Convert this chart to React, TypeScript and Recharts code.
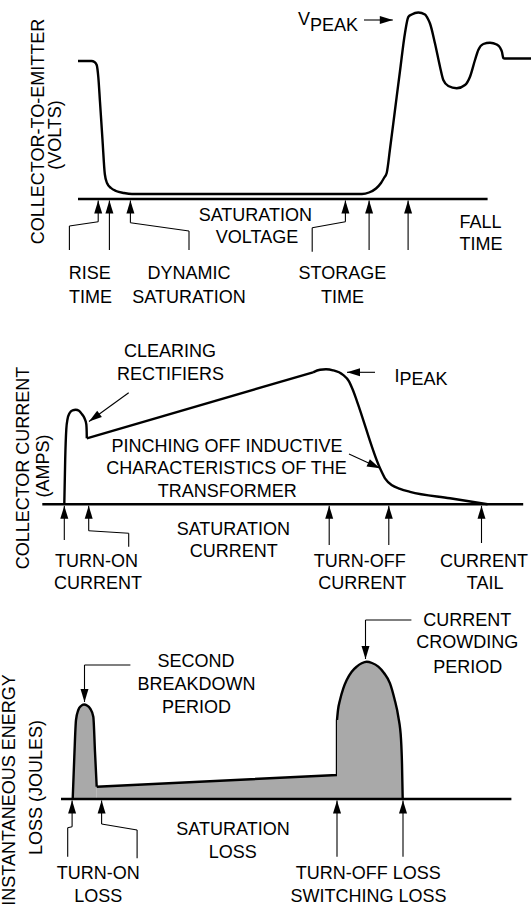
import React from "react";
import {
  ComposedChart,
  Line,
  Area,
  XAxis,
  YAxis,
  ReferenceLine,
  ReferenceDot,
} from "recharts";

type Pt = [number, number];

const FONT = '"Liberation Sans", Arial, Helvetica, sans-serif';
const INK = "#000";
const GREY = "#a9a9a9";
const W = 531;

// ---- panel 1: collector-to-emitter voltage (time, level above the axis)
const vceCurve: Pt[] = [
  [78, 138], [91.5, 138], [94.5, 137], [96.7, 134], [98.3, 122], [100, 97],
  [102.5, 59], [104.8, 25], [107, 16], [111, 11], [116, 8], [124, 6], [132, 5],
  [362, 5], [369, 6.5], [376, 10.5], [381, 16], [384, 21], [386.7, 26],
  [390, 50], [395, 89], [400, 128], [405, 166], [408.3, 182], [411.7, 184.5],
  [418.3, 186.5], [425, 184.5], [428, 180], [430, 175.5], [435, 155.5],
  [440, 132.3], [443.3, 119], [448.3, 113], [456.7, 110.7], [465, 114],
  [470, 122.3], [475, 139], [478.3, 149], [483.3, 155], [490, 156.3],
  [496.7, 154.5], [500, 151.5], [502, 147], [503.3, 141], [504.5, 140.5],
  [531, 140.5],
];

// ---- panel 2: collector current
const icTurnOn: Pt[] = [
  [64.3, 0], [65.2, 45], [66.3, 75], [67.5, 85], [69.5, 91], [72.5, 94],
  [75.7, 94.5], [79, 93.5], [82, 90], [84.5, 86], [86.3, 80], [86.7, 72],
  [86.8, 66],
];
const icRamp: Pt[] = [[86.8, 66], [313, 132]];
const icTurnOff: Pt[] = [
  [313, 132], [320, 134.5], [326, 135], [333, 134], [343, 129.5], [349, 123],
  [353, 114], [357, 103], [380, 36], [385, 26], [392, 19], [400, 15.5],
  [410, 12.5], [450, 6], [487.6, 0],
];

// ---- panel 3: instantaneous energy loss
const lossTurnOn: Pt[] = [
  [72.7, 0], [74.3, 42], [76, 79], [78.3, 89], [81, 93], [84, 94.5],
  [87, 93.5], [90, 90.7], [93.3, 82.3], [95, 47], [96.7, 12.3],
];
const lossSaturation: Pt[] = [[96.7, 12.3], [337, 24], [337, 79]];
const lossTurnOff: Pt[] = [
  [337, 79], [338, 89], [340, 99], [343.3, 110.7], [346.7, 119],
  [351.7, 127.3], [356.7, 132.3], [361.7, 135.7], [366.7, 137.3], [372, 136],
  [378.3, 132.3], [384, 126], [390, 115.7], [394.5, 100], [398.3, 82.3],
  [401, 60], [402, 35], [402.7, 0],
];

// annotation leaders: first point is the arrow tip
const p1Arrows: Pt[][] = [
  [[98.2, -1.5], [98.2, -22.7], [69.4, -27], [69.4, -51]],
  [[109.4, -1.5], [109.4, -51]],
  [[130.4, -1.5], [130.4, -23.7], [189, -32], [189, -51]],
  [[345.4, -1.5], [345.4, -22.7], [312.2, -28.7], [312.2, -52.7]],
  [[369.1, -1.5], [369.1, -51]],
  [[408.1, -1.5], [408.1, -51]],
  [[392.8, 179], [364, 179]],
];
const p1Notes: [number, number, string][] = [
  [255.3, -21.7, "SATURATION"], [257, -44.3, "VOLTAGE"],
  [480.5, -28.7, "FALL"], [481, -51, "TIME"],
  [89.7, -80.3, "RISE"], [90.6, -103.7, "TIME"],
  [189, -80.3, "DYNAMIC"], [189, -103.7, "SATURATION"],
  [342.4, -80.3, "STORAGE"], [342.5, -103.7, "TIME"],
];
const p1Title: [number, number, string][] = [
  [44, 67.5, "COLLECTOR-TO-EMITTER"], [61, 64, "(VOLTS)"],
];

const p2Arrows: Pt[][] = [
  [[64.3, -1.5], [64.3, -35.7]],
  [[88.7, -1.5], [88.7, -26.4], [128.7, -29], [128.7, -42.4]],
  [[329.2, -1.5], [329.2, -40.7]],
  [[388.8, -1.5], [388.8, -40.7]],
  [[481.5, -1.5], [481.5, -38.7]],
  [[89, 82.8], [128.7, 111.6]],
  [[347, 132], [375, 132]],
  [[380, 36], [349, 50.3]],
];
const p2Notes: [number, number, string][] = [
  [170, 147.6, "CLEARING"], [170.5, 124.3, "RECTIFIERS"],
  [226.9, 52.6, "PINCHING OFF INDUCTIVE"],
  [226.5, 30, "CHARACTERISTICS OF THE"], [227.2, 7.6, "TRANSFORMER"],
  [233.3, -30.7, "SATURATION"], [233.7, -52.4, "CURRENT"],
  [96.5, -62.4, "TURN-ON"], [97.9, -85, "CURRENT"],
  [359.8, -62.4, "TURN-OFF"], [362.3, -85, "CURRENT"],
  [483.9, -62.4, "CURRENT"], [485.1, -85, "TAIL"],
];
const p2Title: [number, number, string][] = [
  [28.8, 36.3, "COLLECTOR CURRENT"], [49, 38.3, "(AMPS)"],
];

const p3Arrows: Pt[][] = [
  [[72.1, -1.5], [72.1, -27.7], [67.7, -28.7], [67.7, -57.7]],
  [[101.6, -1.5], [101.6, -25], [137.1, -31], [137.1, -59.3]],
  [[337, -1.5], [337, -57.7]],
  [[403, -1.5], [403, -57.7]],
  [[84.5, 97], [84.5, 134], [130.4, 134]],
  [[365.5, 140], [365.5, 179], [411.4, 179]],
];
const p3Notes: [number, number, string][] = [
  [195.9, 132.3, "SECOND"], [196.4, 109, "BREAKDOWN"], [196.4, 85.7, "PERIOD"],
  [467.3, 173, "CURRENT"], [467.3, 150.7, "CROWDING"], [467.8, 126.3, "PERIOD"],
  [233, -36, "SATURATION"], [232.8, -58.7, "LOSS"],
  [98.2, -80.3, "TURN-ON"], [98.2, -102.7, "LOSS"],
  [368.3, -80.3, "TURN-OFF LOSS"], [368.6, -102.7, "SWITCHING LOSS"],
];
const p3Title: [number, number, string][] = [
  [15.2, 9, "INSTANTANEOUS ENERGY"], [42.3, 11.5, "LOSS (JOULES)"],
];

const toData = (pts: Pt[]) => pts.map(([t, v]) => ({ t, v }));

function segments(key: string, pts: Pt[], width: number) {
  return pts.slice(1).map((p, i) => (
    <ReferenceLine
      key={`${key}-${i}`}
      segment={[
        { x: pts[i][0], y: pts[i][1] },
        { x: p[0], y: p[1] },
      ]}
      stroke={INK}
      strokeWidth={width}
      ifOverflow="visible"
    />
  ));
}

function arrow(key: string, pts: Pt[]) {
  const [tip, from] = pts;
  // direction on screen (y grows downwards)
  const ang = Math.atan2(-(tip[1] - from[1]), tip[0] - from[0]);
  return [
    ...segments(key, pts, 1.1),
    <ReferenceDot
      key={`${key}-head`}
      x={tip[0]}
      y={tip[1]}
      r={1}
      ifOverflow="visible"
      shape={(p: any) => {
        const L = 13;
        const hw = 4;
        const bx = p.cx - L * Math.cos(ang);
        const by = p.cy - L * Math.sin(ang);
        const nx = -Math.sin(ang) * hw;
        const ny = Math.cos(ang) * hw;
        return (
          <path
            d={`M${p.cx},${p.cy}L${bx + nx},${by + ny}L${bx - nx},${by - ny}Z`}
            fill={INK}
          />
        );
      }}
    />,
  ];
}

function note(
  key: string,
  x: number,
  y: number,
  content: React.ReactNode,
  anchor: "start" | "middle" = "middle",
  rotate = false
) {
  return (
    <ReferenceDot
      key={key}
      x={x}
      y={y}
      r={1}
      ifOverflow="visible"
      shape={(p: any) => (
        <text
          x={p.cx}
          y={p.cy}
          textAnchor={anchor}
          fontFamily={FONT}
          fontSize={18}
          fill={INK}
          transform={rotate ? `rotate(-90 ${p.cx} ${p.cy})` : undefined}
        >
          {content}
        </text>
      )}
    />
  );
}

const axes = (domain: [number, number]) => [
  <XAxis key="x" type="number" dataKey="t" domain={[0, W]} hide allowDataOverflow />,
  <YAxis key="y" type="number" domain={domain} hide allowDataOverflow />,
];

const baseline = (key: string, from: number, to: number) =>
  segments(key, [[from, 0], [to, 0]], 2.5);

const margin = { top: 0, right: 0, bottom: 0, left: 0 };

export default function App() {
  return (
    <div
      style={{
        position: "absolute",
        left: 0,
        top: 0,
        width: W,
        height: 905,
        background: "#fff",
        fontFamily: FONT,
      }}
    >
      {/* collector-to-emitter voltage */}
      <ComposedChart width={W} height={315} margin={margin}>
        {axes([-116, 199])}
        {baseline("b1", 78, 487.6)}
        <Line
          data={toData(vceCurve)}
          dataKey="v"
          type="monotone"
          stroke={INK}
          strokeWidth={2.4}
          strokeLinejoin="round"
          dot={false}
          activeDot={false}
          isAnimationActive={false}
        />
        {p1Arrows.flatMap((a, i) => arrow(`a1-${i}`, a))}
        {p1Notes.map(([x, y, s], i) => note(`n1-${i}`, x, y, s))}
        {p1Title.map(([x, y, s], i) => note(`t1-${i}`, x, y, s, "middle", true))}
        {note(
          "vpeak",
          298,
          174,
          <>
            <tspan>V</tspan>
            <tspan dy={6}>PEAK</tspan>
          </>,
          "start"
        )}
      </ComposedChart>

      {/* collector current */}
      <ComposedChart width={W} height={288} margin={margin}>
        {axes([-98.7, 189.3])}
        {baseline("b2", 42.3, 523.2)}
        {[icTurnOn, icRamp, icTurnOff].map((seg, i) => (
          <Line
            key={`ic-${i}`}
            data={toData(seg)}
            dataKey="v"
            type={i === 1 ? "linear" : "monotone"}
            stroke={INK}
            strokeWidth={2.4}
            strokeLinejoin="round"
            dot={false}
            activeDot={false}
            isAnimationActive={false}
          />
        ))}
        {p2Arrows.flatMap((a, i) => arrow(`a2-${i}`, a))}
        {p2Notes.map(([x, y, s], i) => note(`n2-${i}`, x, y, s))}
        {p2Title.map(([x, y, s], i) => note(`t2-${i}`, x, y, s, "middle", true))}
        {note(
          "ipeak",
          394.5,
          122,
          <>
            <tspan>I</tspan>
            <tspan dy={3}>PEAK</tspan>
          </>,
          "start"
        )}
      </ComposedChart>

      {/* instantaneous energy loss */}
      <ComposedChart width={W} height={302} margin={margin}>
        {axes([-106, 196])}
        {[lossTurnOn, lossSaturation, lossTurnOff].map((seg, i) => (
          <Area
            key={`loss-${i}`}
            data={toData(seg)}
            dataKey="v"
            type={i === 1 ? "linear" : "monotone"}
            baseValue={0}
            stroke={INK}
            strokeWidth={2.4}
            strokeLinejoin="round"
            fill={GREY}
            fillOpacity={1}
            dot={false}
            activeDot={false}
            isAnimationActive={false}
          />
        ))}
        {baseline("b3", 61, 511.4)}
        {p3Arrows.flatMap((a, i) => arrow(`a3-${i}`, a))}
        {p3Notes.map(([x, y, s], i) => note(`n3-${i}`, x, y, s))}
        {p3Title.map(([x, y, s], i) => note(`t3-${i}`, x, y, s, "middle", true))}
      </ComposedChart>
    </div>
  );
}
